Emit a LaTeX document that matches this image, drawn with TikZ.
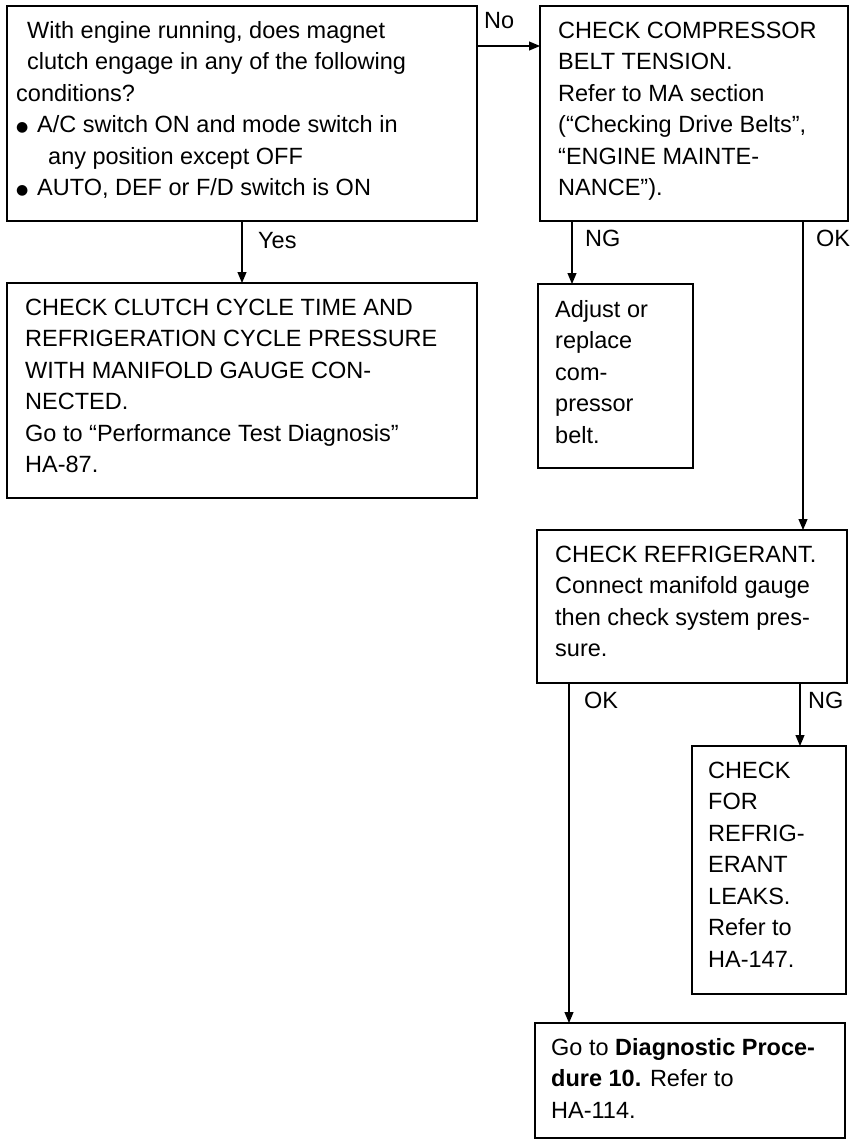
\documentclass[tikz,border=0pt]{standalone}
\usepackage{fontspec}
\setmainfont{Liberation Sans}
\newfontfamily\symfont{DejaVu Sans}
\usetikzlibrary{arrows.meta}
\newcommand\bul{\makebox[21pt][l]{\raisebox{1.5pt}{\symfont\fontsize{14}{14}\selectfont ●}}}
\begin{document}
\begin{tikzpicture}[x=1pt,y=-1pt,
  box/.style={draw, line width=1.5pt, rectangle, anchor=north west, inner sep=0pt, outer sep=0pt},
  txt/.style={anchor=base west, inner sep=0pt, font=\fontsize{23.5}{31.5}\selectfont},
  lbl/.style={anchor=base west, inner sep=0pt, font=\fontsize{23.5}{28}\selectfont},
  arr/.style={line width=1.1pt, -{Triangle[length=11pt,width=9pt]}}]
\useasboundingbox (0,0) rectangle (859,1141);
% boxes
\node[box, minimum width=470pt, minimum height=215pt] (b1) at (7,6) {};
\node[box, minimum width=308pt, minimum height=215pt] (b2) at (540,6) {};
\node[box, minimum width=470pt, minimum height=215pt] (b3) at (7,283) {};
\node[box, minimum width=155pt, minimum height=184pt] (adj) at (538,284) {};
\node[box, minimum width=310pt, minimum height=153pt] (ref) at (537,530) {};
\node[box, minimum width=154pt, minimum height=248pt] (chk) at (692,746) {};
\node[box, minimum width=310pt, minimum height=115pt] (fin) at (535,1023) {};
% texts
\node[txt] (t1) at (16,38) {\parbox[t]{455pt}{\raggedright
\hspace*{11pt}With engine running, does magnet\\
\hspace*{11pt}clutch engage in any of the following\\
conditions?\\
\bul A/C switch ON and mode switch in\\
\hspace*{32pt}any position except OFF\\
\bul AUTO, DEF or F/D switch is ON}};
\node[txt] (t2) at (558,38) {\parbox[t]{285pt}{\raggedright
CHECK COMPRESSOR\\
BELT TENSION.\\
Refer to MA section\\
(“Checking Drive Belts”,\\
“ENGINE MAINTE-\\
NANCE”).}};
\node[txt] (t3) at (25,315) {\parbox[t]{450pt}{\raggedright
CHECK CLUTCH CYCLE TIME AND\\
REFRIGERATION CYCLE PRESSURE\\
WITH MANIFOLD GAUGE CON-\\
NECTED.\\
Go to “Performance Test Diagnosis”\\
HA-87.}};
\node[txt] (tadj) at (555,317) {\parbox[t]{135pt}{\raggedright
Adjust or\\
replace\\
com-\\
pressor\\
belt.}};
\node[txt] (tref) at (555,562) {\parbox[t]{290pt}{\raggedright
CHECK REFRIGERANT.\\
Connect manifold gauge\\
then check system pres-\\
sure.}};
\node[txt] (tchk) at (708,778) {\parbox[t]{135pt}{\raggedright
CHECK\\
FOR\\
REFRIG-\\
ERANT\\
LEAKS.\\
Refer to\\
HA-147.}};
\node[txt] (tfin) at (551,1055) {\parbox[t]{290pt}{\raggedright
Go to \textbf{Diagnostic Proce-}\\
\textbf{dure 10.} Refer to\\
HA-114.}};
% connectors
\draw[arr] ([yshift=-40pt]b1.north east) -- ([yshift=-40pt]b2.north west);
\draw[arr] (b1.south) -- (b3.north);
\draw[arr] ([xshift=32pt]b2.south west) -- ([xshift=32pt]b2.south west |- adj.north);
\draw[arr] ([xshift=-45pt]b2.south east) -- ([xshift=-45pt]b2.south east |- ref.north);
\draw[arr] ([xshift=32pt]ref.south west) -- ([xshift=32pt]ref.south west |- fin.north);
\draw[arr] ([xshift=-47pt]ref.south east) -- ([xshift=-47pt]ref.south east |- chk.north);
% labels
\node[lbl] (lno) at (484,28) {No};
\node[lbl] (lyes) at (258,248) {Yes};
\node[lbl] (lng1) at (585,246) {NG};
\node[lbl] (lok1) at (816,246) {OK};
\node[lbl] (lok2) at (584,708) {OK};
\node[lbl] (lng2) at (808,708) {NG};
\end{tikzpicture}
\end{document}
